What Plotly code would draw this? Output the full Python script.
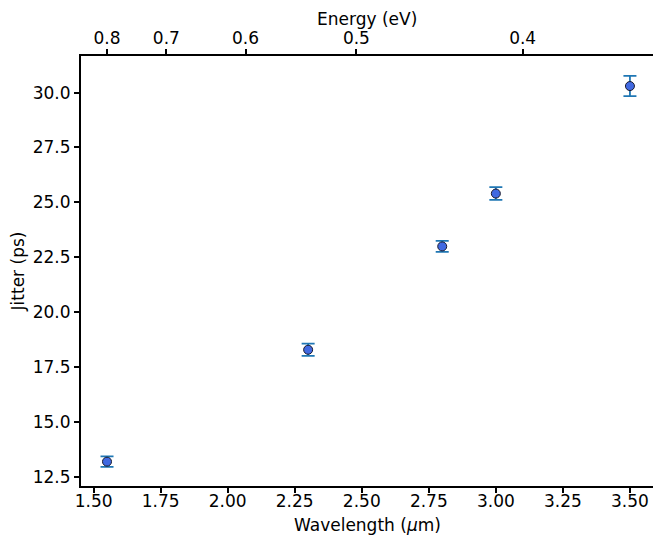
import plotly.graph_objects as go

wavelength = [1.55, 2.3, 2.8, 3.0, 3.5]
jitter = [13.18, 18.28, 22.99, 25.40, 30.30]
jitter_err = [0.24, 0.28, 0.25, 0.29, 0.46]

energy_ticks = [0.8, 0.7, 0.6, 0.5, 0.4]
energy_tickvals = [1.24 / e for e in energy_ticks]
energy_ticktext = [str(e) for e in energy_ticks]

y_ticks = [12.5, 15.0, 17.5, 20.0, 22.5, 25.0, 27.5, 30.0]
x_ticks = [1.50, 1.75, 2.00, 2.25, 2.50, 2.75, 3.00, 3.25, 3.50]

FONT = "DejaVu Sans"
fs = 17

fig = go.Figure()
fig.add_trace(go.Scatter(
    x=wavelength, y=jitter, mode="markers",
    marker=dict(color="#4169E1", size=9, line=dict(color="#1a1a2e", width=1)),
    error_y=dict(type="data", array=jitter_err, color="#1f77b4", thickness=1.8, width=6.5),
    showlegend=False, hoverinfo="skip"))
fig.add_trace(go.Scatter(
    x=wavelength, y=jitter, mode="markers", xaxis="x2",
    marker=dict(opacity=0), showlegend=False, hoverinfo="skip"))

xr = [1.453, 3.586]
common = dict(showline=True, linecolor="black", linewidth=2,
              ticks="outside", ticklen=5, tickwidth=1.5, tickcolor="black",
              showgrid=False, zeroline=False, automargin=False)
fig.update_layout(
    width=653, height=536,
    margin=dict(l=81, r=0, t=56, b=50),
    plot_bgcolor="white", paper_bgcolor="white",
    font=dict(family=FONT, size=fs, color="black"),
    xaxis=dict(range=xr, tickvals=x_ticks, ticktext=[f"{v:.2f}" for v in x_ticks],
               ticklabelstandoff=-6, **common),
    xaxis2=dict(range=xr, overlaying="x", side="top", tickvals=energy_tickvals,
                ticktext=energy_ticktext, ticklabelstandoff=-2, **common),
    yaxis=dict(range=[12.07, 31.67], tickvals=y_ticks, ticktext=[f"{v:.1f}" for v in y_ticks],
               title=dict(text="Jitter (ps)", font=dict(size=fs), standoff=4),
               **common),
    annotations=[
        dict(text="Energy (eV)", xref="paper", yref="paper", x=0.5, y=1,
             xanchor="center", yanchor="middle", yshift=37, showarrow=False,
             font=dict(size=fs)),
        dict(text="Wavelength (<i>μ</i>m)", xref="paper", yref="paper", x=0.5, y=0,
             xanchor="center", yanchor="middle", yshift=-39, showarrow=False,
             font=dict(size=fs)),
    ],
)

fig.write_html("out.html", config={"displayModeBar": False},
               post_script="document.body.style.margin='0';document.body.style.overflow='hidden';")
